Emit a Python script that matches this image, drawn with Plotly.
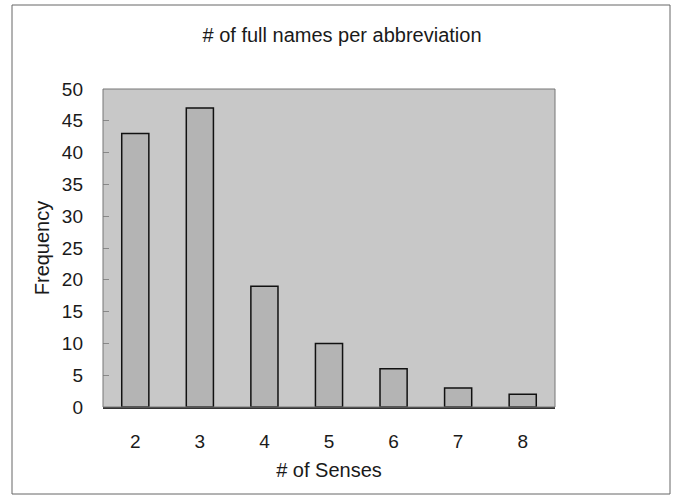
import plotly.graph_objects as go

senses = ["2", "3", "4", "5", "6", "7", "8"]
frequency = [43, 47, 19, 10, 6, 3, 2]
y_ticks = [0, 5, 10, 15, 20, 25, 30, 35, 40, 45, 50]

FONT = "Liberation Sans, Arial, sans-serif"

fig = go.Figure(
    go.Bar(
        x=senses,
        y=frequency,
        marker=dict(color="#b4b4b4", line=dict(color="#111111", width=1.5)),
        width=0.42,
    )
)

W, H = 677, 496
L, R, T, B = 103, 122, 89, 89
pw, ph = W - L - R, H - T - B


def px(x):
    return (x - L) / pw


def py(y):
    return (H - B - y) / ph


fig.update_layout(
    width=W,
    height=H,
    margin=dict(l=L, r=R, t=T, b=B),
    paper_bgcolor="white",
    plot_bgcolor="#c8c8c8",
    showlegend=False,
    font=dict(family=FONT, color="#1a1a1a"),
    title=dict(
        text="# of full names per abbreviation",
        x=px(342),
        xref="paper",
        xanchor="center",
        y=1 - 35 / H,
        yanchor="middle",
        font=dict(size=20, family=FONT, color="#1a1a1a"),
    ),
    xaxis=dict(
        type="category",
        showgrid=False,
        showline=True,
        linecolor="#333333",
        linewidth=1.5,
        mirror=False,
        ticks="",
        tickfont=dict(size=19),
        ticklabelstandoff=16,
        title=dict(text="# of Senses", font=dict(size=20), standoff=12),
        fixedrange=True,
    ),
    yaxis=dict(
        range=[0, 50],
        tickvals=y_ticks,
        showgrid=False,
        zeroline=False,
        showline=False,
        ticks="inside",
        ticklen=6,
        tickcolor="#888888",
        tickfont=dict(size=19),
        ticklabelstandoff=19,
        title=dict(text="Frequency", font=dict(size=20), standoff=6),
        fixedrange=True,
    ),
    shapes=[
        dict(
            type="rect",
            xref="paper",
            yref="paper",
            x0=0,
            x1=1,
            y0=0,
            y1=1,
            line=dict(color="#777777", width=1),
            layer="above",
        ),
        dict(
            type="rect",
            xref="paper",
            yref="paper",
            x0=px(12),
            x1=px(670),
            y0=py(494),
            y1=py(5),
            line=dict(color="#666666", width=1),
        ),
    ],
)

fig.write_html("out.html")
